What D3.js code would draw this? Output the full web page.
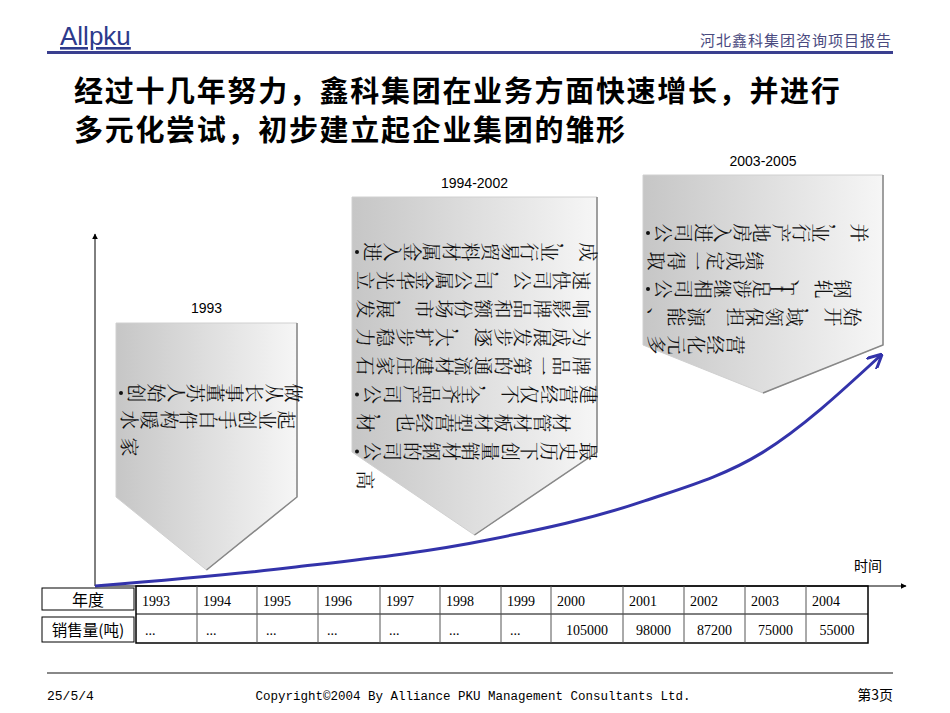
<!DOCTYPE html>
<html><head><meta charset="utf-8">
<script src="https://cdn.jsdelivr.net/npm/d3@7"></script>
<style>body{margin:0;background:#fff}</style></head>
<body><svg id="c" width="950" height="713"></svg>
<script>
const years = ["1993","1994","1995","1996","1997","1998","1999","2000","2001","2002","2003","2004"];
const sales = ["...","...","...","...","...","...","...","105000","98000","87200","75000","55000"];
// conceptual growth curve (relative level along time axis 0..1)
const growthT = [0, 0.25, 0.5, 0.7, 0.85, 1];
const growthV = [0, 0.08, 0.2, 0.37, 0.58, 1];
const periods = ["1993","1994-2002","2003-2005"];
const boxLines = [
 ["•创始人苏董事长从做","水暖构件白手创业起","家"],
 ["•进入金属材料贸易行业，成","立光华金属公司，公司快速","发展，市场份额和品牌影响","力稳步扩大，逐步发展成为","石家庄建材流通的第一品牌","•公司产品齐全，不仅经营建","材，也经营型材板材管材","•公司的钢材销量创下历史最","高"],
 ["•公司进入房地产行业，并","取得一定成绩","•公司相继涉足IT、轧钢","、能源、担保领域，开始","多元化经营"]
];
const svg = d3.select("#c");
const cjk = "'Noto Sans CJK SC', sans-serif";
const serif = "'Liberation Serif','Noto Serif CJK SC','Noto Sans CJK SC',serif";

// header
svg.append("text").attr("x",60).attr("y",45).attr("font-family","Arial,Liberation Sans").attr("font-size",26)
  .attr("fill","#2d3a8c").attr("text-decoration","underline").text("Allpku");
svg.append("text").attr("x",892).attr("y",46).attr("text-anchor","end").attr("font-family",cjk)
  .attr("font-size",15).attr("fill","#4a4a80").attr("letter-spacing",1).text("河北鑫科集团咨询项目报告");
svg.append("rect").attr("x",47).attr("y",51).attr("width",846).attr("height",3).attr("fill","#3a3f8f");
["经过十几年努力，鑫科集团在业务方面快速增长，并进行","多元化尝试，初步建立起企业集团的雏形"].forEach((t,i)=>
 svg.append("text").attr("x",74).attr("y",102+i*39).attr("font-family",cjk).attr("font-weight","bold")
  .attr("font-size",29).attr("letter-spacing",1.7).attr("fill","#000").text(t));

// gradient
const g = svg.append("defs").append("linearGradient").attr("id","gr");
g.append("stop").attr("offset","0").attr("stop-color","#c6c6c6");
g.append("stop").attr("offset","1").attr("stop-color","#f6f6f6");

// boxes
const boxes = [
 {x0:116,x1:297,top:323,side:497,tip:570,lab:313,ly:393,dy:27,fs:19},
 {x0:352,x1:597,top:197,side:452,tip:535,lab:188,ly:252,dy:28.5,fs:19},
 {x0:643,x1:883,top:175,side:345,tip:393,lab:166,ly:233,dy:28,fs:19}
];
boxes.forEach((b,i)=>{
  const mid=(b.x0+b.x1)/2;
  svg.append("path").attr("d",`M${b.x0},${b.top}H${b.x1}V${b.side}L${mid},${b.tip}L${b.x0},${b.side}Z`)
    .attr("fill","url(#gr)").attr("stroke","#d0d0d0").attr("stroke-width",1);
  svg.append("path").attr("d",`M${b.x1},${b.top}V${b.side}L${mid},${b.tip}`).attr("fill","none")
    .attr("stroke","#888").attr("stroke-width",1.5);
  svg.append("text").attr("x",mid).attr("y",b.lab).attr("text-anchor","middle")
    .attr("font-family","Arial,Liberation Sans").attr("font-size",14).text(periods[i]);
  boxLines[i].forEach((ln,j)=>{
    const cy=b.ly+j*b.dy;
    let x=b.x0+3;
    [...ln].forEach(c=>{
      if(c==="•"){
        svg.append("circle").attr("cx",x+2).attr("cy",cy).attr("r",2).attr("fill","#111");
        x+=7; return;
      }
      const w=/[A-Za-z]/.test(c)?11:19.6;
      svg.append("text").attr("transform",`translate(${x+w/2},${cy}) rotate(90)`)
        .attr("text-anchor","middle").attr("dominant-baseline","central")
        .attr("font-family",serif).attr("font-size",b.fs).attr("fill","#111").text(c);
      x+=w;
    });
  });
});

// axes
const X0=95, Y0=586;
svg.append("defs").append("marker").attr("id","ah").attr("viewBox","0 0 10 10").attr("refX",9).attr("refY",5)
 .attr("markerWidth",6).attr("markerHeight",6).attr("orient","auto")
 .append("path").attr("d","M0,0L10,5L0,10Z").attr("fill","#000");
svg.append("line").attr("x1",X0).attr("y1",Y0).attr("x2",X0).attr("y2",234).attr("stroke","#000").attr("marker-end","url(#ah)");
svg.append("line").attr("x1",X0).attr("y1",Y0).attr("x2",906).attr("y2",Y0).attr("stroke","#000").attr("marker-end","url(#ah)");
svg.append("text").attr("x",882).attr("y",571).attr("text-anchor","end").attr("font-family",cjk).attr("font-size",14).text("时间");

// growth curve
const sx=d3.scaleLinear().domain([0,1]).range([X0,880]);
const sy=d3.scaleLinear().domain([0,1]).range([Y0,356]);
svg.append("defs").append("marker").attr("id","bh").attr("viewBox","0 0 10 10").attr("refX",8).attr("refY",5)
 .attr("markerWidth",5).attr("markerHeight",5).attr("orient","auto")
 .append("path").attr("d","M0,0L10,5L0,10").attr("fill","none").attr("stroke","#3333aa").attr("stroke-width",2);
svg.append("path").datum(growthT.map((t,i)=>[t,growthV[i]]))
 .attr("d",d3.line().x(d=>sx(d[0])).y(d=>sy(d[1])).curve(d3.curveMonotoneX))
 .attr("fill","none").attr("stroke","#3333aa").attr("stroke-width",3).attr("marker-end","url(#bh)");

// table
const edges=[136,197,257,318,380,440,501,551,623,684,745,806,868];
const r0=Y0, r1=614, r2=643;
const tf="'Liberation Serif','Noto Sans CJK SC',serif";
svg.append("rect").attr("x",136).attr("y",r0).attr("width",732).attr("height",r2-r0).attr("fill","none").attr("stroke","#000").attr("stroke-width",1.5);
svg.append("line").attr("x1",136).attr("x2",868).attr("y1",r1).attr("y2",r1).attr("stroke","#000");
edges.slice(1,-1).forEach(x=>svg.append("line").attr("x1",x).attr("x2",x).attr("y1",r0).attr("y2",r2).attr("stroke","#555"));
years.forEach((y,i)=>{
  svg.append("text").attr("x",edges[i]+6).attr("y",606).attr("font-family",tf).attr("font-size",14).text(y);
  svg.append("text").attr("x",i<7?edges[i]+9:edges[i]+(edges[i+1]-edges[i])/2).attr("y",635)
   .attr("text-anchor",i<7?"start":"middle").attr("font-family",tf).attr("font-size",14).text(sales[i]);
});
svg.append("rect").attr("x",42).attr("y",588).attr("width",92).attr("height",22).attr("fill","none").attr("stroke","#000");
svg.append("rect").attr("x",42).attr("y",617).attr("width",92).attr("height",25).attr("fill","none").attr("stroke","#000");
svg.append("text").attr("x",88).attr("y",606).attr("text-anchor","middle").attr("font-family",cjk).attr("font-size",16).text("年度");
svg.append("text").attr("x",88).attr("y",636).attr("text-anchor","middle").attr("font-family",cjk).attr("font-size",15.5).text("销售量(吨)");

// footer
svg.append("rect").attr("x",47).attr("y",672).attr("width",846).attr("height",2).attr("fill","#888");
const ff="'Liberation Mono','Noto Sans CJK SC',monospace";
svg.append("text").attr("x",47).attr("y",700).attr("font-family",ff).attr("font-size",13).text("25/5/4");
svg.append("text").attr("x",473).attr("y",700).attr("text-anchor","middle").attr("font-family",ff).attr("font-size",12.5).text("Copyright©2004 By Alliance PKU Management Consultants Ltd.");
svg.append("text").attr("x",893).attr("y",700).attr("text-anchor","end").attr("font-family",cjk).attr("font-size",14).text("第3页");
</script></body></html>
